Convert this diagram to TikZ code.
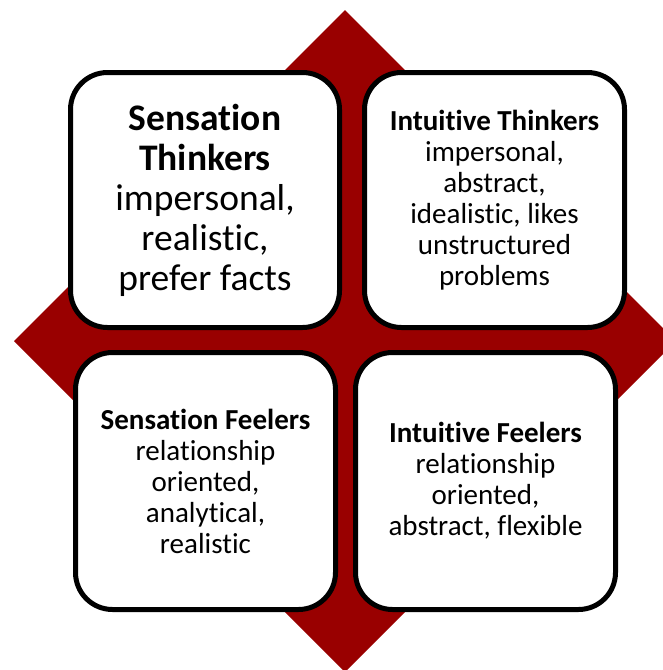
\documentclass[tikz,border=0pt]{standalone}
\usepackage{fontspec}
\setmainfont{Carlito}[Ligatures={NoCommon}]
\definecolor{quadred}{RGB}{153,0,0}
\begin{document}
\begin{tikzpicture}[x=1pt,y=-1pt,
  quadbox/.style={draw=black, line width=5pt, fill=white, rounded corners=37pt,
    rectangle, align=center, inner sep=0pt, anchor=center},
  bigtext/.style={font=\fontsize{37.5}{40}\selectfont},
  smalltext/.style={font=\fontsize{29}{31}\selectfont}]
  \useasboundingbox (0,0) rectangle (662,670);
  % background diamond
  \fill[quadred] (345,10) -- (676,341) -- (345,672) -- (14,341) -- cycle;
  % four quadrant boxes
  \node[quadbox, bigtext, minimum width=269pt, minimum height=255pt] (st) at (205,200)
    {\textbf{Sensation}\\\textbf{Thinkers}\\impersonal,\\realistic,\\prefer facts};
  \node[quadbox, smalltext, minimum width=260pt, minimum height=255pt] (it) at (494.5,200)
    {\textbf{Intuitive Thinkers}\\impersonal,\\abstract,\\idealistic, likes\\unstructured\\problems};
  \node[quadbox, smalltext, minimum width=260pt, minimum height=257pt] (sf) at (205.5,481)
    {\textbf{Sensation Feelers}\\relationship\\oriented,\\analytical,\\realistic};
  \node[quadbox, smalltext, minimum width=260pt, minimum height=257pt] (if) at (485.5,481)
    {\textbf{Intuitive Feelers}\\relationship\\oriented,\\abstract, flexible};
\end{tikzpicture}
\end{document}
